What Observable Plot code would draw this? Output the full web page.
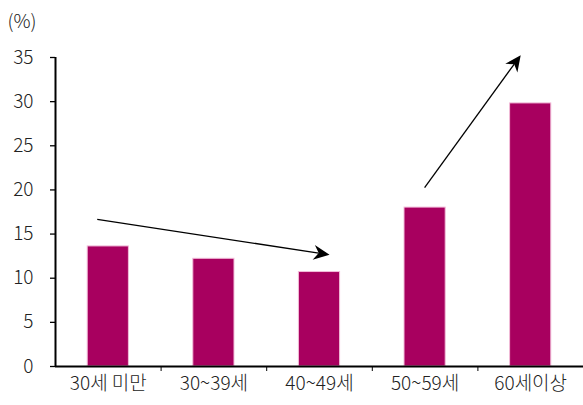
<!DOCTYPE html>
<html>
<head>
<meta charset="utf-8">
<script src="https://cdn.jsdelivr.net/npm/d3@7"></script>
<script src="https://cdn.jsdelivr.net/npm/@observablehq/plot@0.6"></script>
<style>
  html, body { margin: 0; padding: 0; background: #fff; }
  #chart svg { display: block; }
</style>
</head>
<body>
<div id="chart"></div>
<script>
// Age groups and their shares (%)
const categories = ["30세 미만", "30~39세", "40~49세", "50~59세", "60세이상"];
const values = [13.6, 12.2, 10.7, 18.0, 29.8];
const yTicks = [0, 5, 10, 15, 20, 25, 30, 35];

// Trend arrows in data units: [x-start, y-start, x-end, y-end] (x = category index)
const trendFrom = [[-0.10, 16.6], [3.00, 20.2]];
const trendTo = [[2.10, 12.6], [3.91, 35.2]];

const rows = categories.map((c, i) => ({i, c, v: values[i]}));
const arrows = trendFrom.map((f, k) => ({x1: f[0], y1: f[1], x2: trendTo[k][0], y2: trendTo[k][1]}));
const half = 0.195; // half bar width, in category units

const font = "'Noto Sans CJK KR', 'Noto Sans', sans-serif";

// Arrows with filled, notched heads, positioned via the plot's scales
function trendArrows(index, scales) {
  const {x, y} = scales;
  const g = d3.create("svg:g");
  for (const a of arrows) {
    const X1 = x(a.x1), Y1 = y(a.y1), X2 = x(a.x2), Y2 = y(a.y2);
    const ang = Math.atan2(Y2 - Y1, X2 - X1);
    const L = 16, W = 7.5, N = 11;
    const ux = Math.cos(ang), uy = Math.sin(ang);
    const px = -uy, py = ux;
    g.append("line")
      .attr("x1", X1).attr("y1", Y1)
      .attr("x2", X2 - ux * N).attr("y2", Y2 - uy * N)
      .attr("stroke", "#000").attr("stroke-width", 1.3);
    const pts = [
      [X2, Y2],
      [X2 - ux * L + px * W, Y2 - uy * L + py * W],
      [X2 - ux * N, Y2 - uy * N],
      [X2 - ux * L - px * W, Y2 - uy * L - py * W]
    ];
    g.append("polygon").attr("points", pts.map(p => p.join(",")).join(" ")).attr("fill", "#000");
  }
  return g.node();
}

const chart = Plot.plot({
  width: 583,
  height: 405,
  marginLeft: 55,
  marginRight: 0,
  marginTop: 57,
  marginBottom: 39,
  style: {fontFamily: font, fontSize: "19px", fontWeight: 300, color: "#222", background: "#fff"},
  x: {type: "linear", domain: [-0.5, 4.5], axis: null},
  y: {domain: [0, 35], axis: null},
  marks: [
    Plot.rectY(rows, {
      x1: d => d.i - half, x2: d => d.i + half, y1: 0, y2: "v",
      fill: "#a8005f", stroke: "#f2bdd9", strokeWidth: 1
    }),
    // y axis
    Plot.axisY({ticks: yTicks, label: null, tickSize: 5, tickPadding: 17, tickFormat: d => d, fontSize: 19, stroke: "#000", strokeWidth: 1.3}),
    Plot.ruleX([-0.5], {y1: 0, y2: 35, stroke: "#000", strokeWidth: 2}),
    // x axis: labels at centers, tick marks at group boundaries
    Plot.axisX({ticks: categories.map((c, i) => i), label: null, tickSize: 0, tickPadding: 10, tickFormat: i => categories[i], fontSize: 19}),
    Plot.axisX({ticks: [0.5, 1.5, 2.5, 3.5], label: null, tickSize: 5, tickFormat: () => "", stroke: "#000", strokeWidth: 1}),
    Plot.ruleY([0], {x1: -0.5, x2: 4.5, stroke: "#000", strokeWidth: 2}),
    trendArrows,
    Plot.text(["(%)"], {frameAnchor: "top-left", dx: -48, dy: -36, lineAnchor: "middle", textAnchor: "start", fontSize: 19, fill: "#222"})
  ]
});
document.getElementById("chart").append(chart);
</script>
</body>
</html>
